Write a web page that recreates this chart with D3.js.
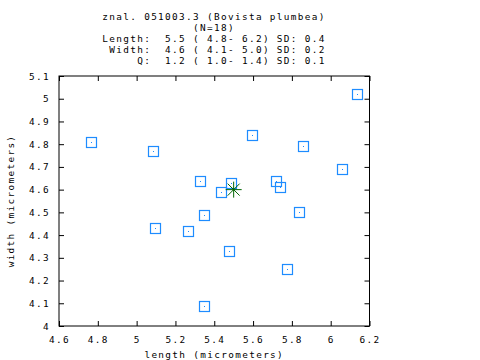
<!DOCTYPE html>
<html><head><meta charset="utf-8">
<script src="https://cdn.jsdelivr.net/npm/d3@7"></script>
<style>body{margin:0;background:#fff}text{font-family:"DejaVu Sans Mono",monospace;font-size:9.4px;letter-spacing:1.34px;fill:#000}</style>
</head><body><svg id="c" width="480" height="360"></svg>
<script>
const titleLines = ["znal. 051003.3 (Bovista plumbea)", "(N=18)", "Length:  5.5 ( 4.8- 6.2) SD: 0.4", " Width:  4.6 ( 4.1- 5.0) SD: 0.2", "     Q:  1.2 ( 1.0- 1.4) SD: 0.1"];
const lengths = [4.765, 5.086, 5.328, 6.138, 5.596, 5.859, 6.060, 5.719, 5.741, 5.488, 5.437, 5.096, 5.267, 5.349, 5.349, 5.839, 5.478, 5.777];
const widths  = [4.810, 4.769, 4.637, 5.019, 4.839, 4.790, 4.689, 4.637, 4.610, 4.628, 4.588, 4.430, 4.417, 4.487, 4.087, 4.500, 4.329, 4.249];
const meanPoint = [5.5, 4.6];
const xTicks = [4.6, 4.8, 5.0, 5.2, 5.4, 5.6, 5.8, 6.0, 6.2];
const yTicks = [4.0, 4.1, 4.2, 4.3, 4.4, 4.5, 4.6, 4.7, 4.8, 4.9, 5.0, 5.1];
const xLabel = "length (micrometers)";
const yLabel = "width (micrometers)";

const svg = d3.select("#c");
const L = 59, R = 369.5, T = 76, B = 326;
const x = d3.scaleLinear().domain([4.6, 6.2]).range([L, R]);
const y = d3.scaleLinear().domain([4.0, 5.1]).range([B, T]);
const fmt = d => d3.format("")(+d.toFixed(1));

// title
svg.append("g").selectAll("text").data(titleLines).join("text")
  .attr("x", 214).attr("y", (d, i) => 20 + i * 11)
  .attr("text-anchor", "middle").attr("xml:space", "preserve")
  .style("white-space", "pre").text(d => d);

// axes
const tl = 5;
svg.append("g").attr("transform", `translate(0,${B})`)
  .call(d3.axisBottom(x).tickValues(xTicks).tickFormat(fmt).tickSizeInner(-tl).tickSizeOuter(0).tickPadding(10));
svg.append("g").attr("transform", `translate(0,${T})`)
  .call(d3.axisTop(x).tickValues(xTicks).tickFormat("").tickSizeInner(-tl).tickSizeOuter(0));
svg.append("g").attr("transform", `translate(${L},0)`)
  .call(d3.axisLeft(y).tickValues(yTicks).tickFormat(fmt).tickSizeInner(-tl).tickSizeOuter(0).tickPadding(9));
svg.append("g").attr("transform", `translate(${R},0)`)
  .call(d3.axisRight(y).tickValues(yTicks).tickFormat("").tickSizeInner(-tl).tickSizeOuter(0));
svg.selectAll(".domain").remove();
svg.selectAll(".tick line").attr("stroke", "#000");
svg.selectAll(".tick text").style("font-family", '"DejaVu Sans Mono",monospace').style("font-size", "9.4px").style("letter-spacing", "1.34px").attr("fill", "#000");
svg.append("rect").attr("x", L).attr("y", T).attr("width", R - L).attr("height", B - T)
  .attr("fill", "none").attr("stroke", "#000").attr("stroke-width", 1);

// labels
svg.append("text").attr("x", (L + R) / 2).attr("y", 358).attr("text-anchor", "middle").text(xLabel);
svg.append("text").attr("transform", `translate(14,${(T + B) / 2}) rotate(-90)`).attr("text-anchor", "middle").text(yLabel);

// points
const pts = lengths.map((v, i) => [v, widths[i]]);
const g = svg.append("g");
g.selectAll("rect.pt").data(pts).join("rect").attr("class", "pt")
  .attr("x", d => Math.round(x(d[0])) - 5 + 0.5).attr("y", d => Math.round(y(d[1])) - 5 + 0.5)
  .attr("width", 10).attr("height", 10).attr("fill", "none").attr("stroke", "#1e8cff").attr("stroke-width", 1.2);
g.selectAll("rect.dot").data(pts).join("rect").attr("class", "dot")
  .attr("x", d => Math.round(x(d[0]))).attr("y", d => Math.round(y(d[1])))
  .attr("width", 1).attr("height", 1).attr("fill", "#1e8cff");

// mean star
const mx = x(meanPoint[0]), my = y(meanPoint[1]), s = 8;
const star = svg.append("g").attr("stroke", "#006400").attr("stroke-width", 1);
[[-s, 0, s, 0], [0, -s, 0, s], [-s * 0.75, -s * 0.75, s * 0.75, s * 0.75], [-s * 0.75, s * 0.75, s * 0.75, -s * 0.75]].forEach(l =>
  star.append("line").attr("x1", mx + l[0]).attr("y1", my + l[1]).attr("x2", mx + l[2]).attr("y2", my + l[3]));
</script></body></html>
